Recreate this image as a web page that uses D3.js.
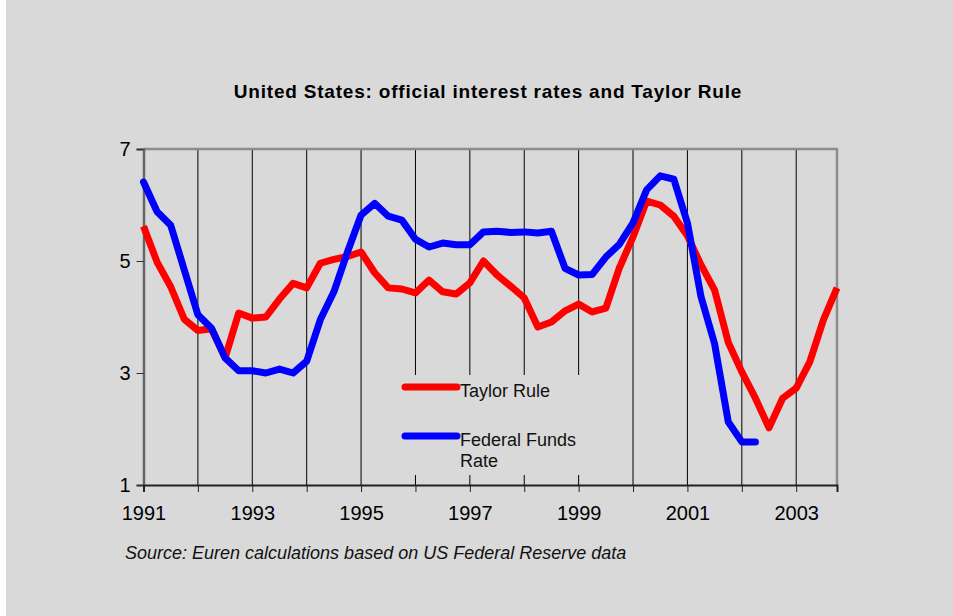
<!DOCTYPE html>
<html>
<head>
  <style type="text/css">
    body { margin: 0; background: #fff; }
    svg { display: block; font-family: "Liberation Sans", Arial, sans-serif; }
  </style>
</head>
<body>
  <script type="text/javascript" src="https://cdn.jsdelivr.net/npm/d3@7/dist/d3.min.js"></script>
  <script type="text/javascript">
    // quarterly values, 1991Q1 onward
    var startYear = 1991;
    var taylorRule = [5.62, 4.98, 4.54, 3.96, 3.76, 3.79, 3.27, 4.07,
                      3.98, 4.0, 4.32, 4.6, 4.52, 4.96, 5.03, 5.08,
                      5.16, 4.79, 4.52, 4.5, 4.43, 4.66, 4.45, 4.41,
                      4.61, 5.0, 4.75, 4.55, 4.34, 3.82, 3.91, 4.11,
                      4.23, 4.09, 4.16, 4.88, 5.43, 6.07, 6.0, 5.8,
                      5.45, 4.93, 4.48, 3.55, 3.02, 2.55, 2.02, 2.55,
                      2.73, 3.2, 3.95, 4.52];
    var fedFunds = [6.41, 5.88, 5.64, 4.84, 4.04, 3.8, 3.27, 3.04,
                    3.04, 3.0, 3.07, 3.0, 3.21, 3.95, 4.45, 5.16,
                    5.82, 6.03, 5.8, 5.73, 5.39, 5.25, 5.32, 5.29,
                    5.29, 5.52, 5.53, 5.51, 5.52, 5.5, 5.53, 4.87,
                    4.75, 4.76, 5.07, 5.3, 5.68, 6.27, 6.52, 6.46,
                    5.68, 4.36, 3.52, 2.13, 1.77, 1.77];
    var yTicks = [1, 3, 5, 7];
    var xTickYears = [1991, 1993, 1995, 1997, 1999, 2001, 2003];
    var gridYears = d3.range(1992, 2004);

    var w = 953, h = 616;
    var svg = d3.select("body").append("svg").attr("width", w).attr("height", h);

    svg.append("rect").attr("x", 6).attr("y", 0).attr("width", w - 6).attr("height", h).attr("fill", "#d9d9d9");

    var x = d3.scaleLinear().domain([1991, 2003.75]).range([143.5, 837]);
    var y = d3.scaleLinear().domain([1, 7]).range([485, 149]);

    // title
    svg.append("text").attr("x", 488).attr("y", 98).attr("text-anchor", "middle")
      .attr("font-size", 19).attr("font-weight", "bold").attr("fill", "#000")
      .attr("letter-spacing", 0.8)
      .text("United States: official interest rates and Taylor Rule");

    // vertical gridlines
    svg.append("g").selectAll("line").data(gridYears).enter().append("line")
      .attr("x1", d => x(d)).attr("x2", d => x(d))
      .attr("y1", y(7)).attr("y2", y(1))
      .attr("stroke", "#000").attr("stroke-width", 1);

    // plot frame (top + right)
    svg.append("path")
      .attr("d", "M" + x(1991) + "," + y(7) + "H" + x(2003.75) + "V" + y(1))
      .attr("fill", "none").attr("stroke", "#8c8c8c").attr("stroke-width", 2.5);

    // legend box hides gridlines
    svg.append("rect").attr("x", 392).attr("y", 375).attr("width", 210).attr("height", 100)
      .attr("fill", "#d9d9d9");

    // axes
    var yAxis = d3.axisLeft(y).tickValues(yTicks).tickSize(7).tickFormat(d3.format("d"));
    var gy = svg.append("g").attr("transform", "translate(" + x(1991) + ",0)").call(yAxis);
    gy.select(".domain").attr("stroke", "#666").attr("stroke-width", 2.5);
    gy.selectAll(".tick line").attr("stroke", "#333");
    gy.selectAll(".tick text").attr("font-size", 20).attr("font-family", "Liberation Sans, Arial, sans-serif")
      .attr("fill", "#000").attr("x", -13);

    var xAxis = d3.axisBottom(x).tickValues(d3.range(1991, 2004)).tickSize(7)
      .tickFormat(d => xTickYears.indexOf(d) >= 0 ? d : "");
    var gx = svg.append("g").attr("transform", "translate(0," + y(1) + ")").call(xAxis);
    gx.select(".domain").attr("stroke", "#222").attr("stroke-width", 2);
    gx.selectAll(".tick line").attr("stroke", "#222");
    gx.selectAll(".tick text").attr("font-size", 20).attr("font-family", "Liberation Sans, Arial, sans-serif")
      .attr("fill", "#000").attr("y", 21);

    var line = d3.line()
      .x((d, i) => x(startYear + i / 4))
      .y(d => y(d));

    svg.append("path").datum(taylorRule).attr("d", line)
      .attr("fill", "none").attr("stroke", "#ff0000").attr("stroke-width", 7)
      .attr("stroke-linejoin", "round");
    svg.append("path").datum(fedFunds).attr("d", line)
      .attr("fill", "none").attr("stroke", "#0000ff").attr("stroke-width", 7)
      .attr("stroke-linejoin", "round").attr("stroke-linecap", "round");

    // legend
    var legend = [
      { color: "#ff0000", lines: ["Taylor Rule"], y: 387 },
      { color: "#0000ff", lines: ["Federal Funds", "Rate"], y: 436 }
    ];
    var lg = svg.append("g").selectAll("g").data(legend).enter().append("g");
    lg.append("line").attr("x1", 405).attr("x2", 457)
      .attr("y1", d => d.y).attr("y2", d => d.y)
      .attr("stroke", d => d.color).attr("stroke-width", 7).attr("stroke-linecap", "round");
    lg.append("text").attr("x", 460).attr("y", d => d.y + 10)
      .attr("font-size", 18).attr("fill", "#111")
      .selectAll("tspan").data(d => d.lines).enter().append("tspan")
      .attr("x", 460).attr("dy", (d, i) => i === 0 ? 0 : 21).text(d => d);

    // source note
    svg.append("text").attr("x", 125).attr("y", 559)
      .attr("font-size", 18).attr("font-style", "italic").attr("fill", "#111")
      .text("Source: Euren calculations based on US Federal Reserve data");
  </script>
</body>
</html>
